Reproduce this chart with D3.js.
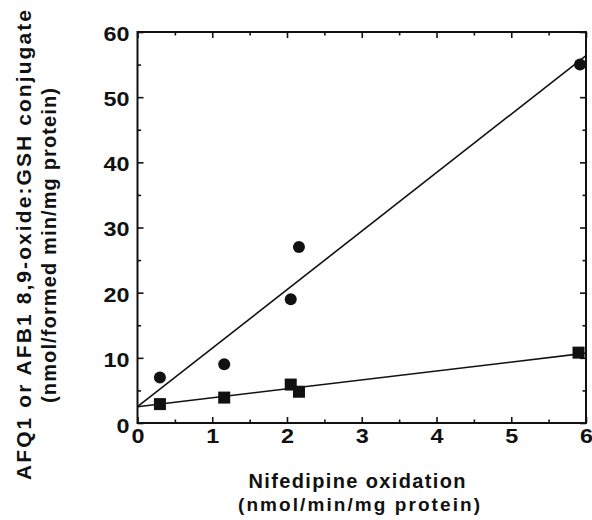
<!DOCTYPE html>
<html><head><meta charset="utf-8">
<script src="https://cdn.jsdelivr.net/npm/d3@7"></script>
<style>body{margin:0;background:#fff}svg{display:block}text{font-family:"Liberation Sans",Arial,sans-serif;font-weight:bold;fill:#111}</style>
</head><body>
<svg id="c" width="592" height="520"></svg>
<script>
const nifedipine = [0.30, 1.16, 2.05, 2.16, 5.92];
const afq1 = [7.0, 9.0, 19.0, 27.0, 55.0];
const squareX = [0.30, 1.16, 2.05, 2.16, 5.90];
const afb1Gsh = [2.9, 3.9, 5.9, 4.8, 10.8];
const fitCircle = {intercept: 2.5, slope: 8.98};
const fitSquare = {intercept: 2.5, slope: 1.37};
const xTicks = [0,1,2,3,4,5,6];
const yTicks = [0,10,20,30,40,50,60];
const xMinor = [0.5,1.5,2.5,3.5,4.5,5.5];
const yMinor = [5,15,25,35,45,55];

const svg = d3.select("#c");
const L=137.5,R=586,T=32,B=423;
const x = d3.scaleLinear().domain([0,6]).range([L,R]);
const y = d3.scaleLinear().domain([0,60]).range([B,T]);
const g = svg.append("g");

g.append("rect").attr("x",L).attr("y",T).attr("width",R-L).attr("height",B-T)
 .attr("fill","none").attr("stroke","#111").attr("stroke-width",2);

function ticks(f,t,vals,len){
  const a = g.append("g").attr("transform",t).call(f.tickValues(vals).tickSize(-len).tickFormat(""));
  a.select(".domain").remove();
  a.selectAll("line").attr("stroke","#111").attr("stroke-width",1.6);
}
const axes = [[()=>d3.axisBottom(x),`translate(0,${B})`,xTicks,xMinor],
 [()=>d3.axisTop(x),`translate(0,${T})`,xTicks,xMinor],
 [()=>d3.axisLeft(y),`translate(${L},0)`,yTicks,yMinor],
 [()=>d3.axisRight(y),`translate(${R},0)`,yTicks,yMinor]];
axes.forEach(([mk,t,maj,min])=>{ ticks(mk(),t,maj,6); ticks(mk(),t,min,3.5); });

const fmt = d3.format("d");
const xl = g.append("g").attr("transform",`translate(0,${B+5})`).call(d3.axisBottom(x).tickValues(xTicks).tickSize(0).tickFormat(fmt));
xl.select(".domain").remove();
xl.selectAll("text").attr("font-size",21).attr("dy","0.72em").attr("y",0)
 .attr("textLength",d=>fmt(d).length*13).attr("lengthAdjust","spacingAndGlyphs")
 .style("font-family","'Liberation Sans',Arial,sans-serif").style("font-weight","bold");
const yl = g.append("g").attr("transform",`translate(${L-8},0)`).call(d3.axisLeft(y).tickValues(yTicks).tickSize(0).tickFormat(fmt));
yl.select(".domain").remove();
yl.selectAll("text").attr("font-size",20).attr("dy","0.42em").attr("x",0)
 .attr("textLength",d=>fmt(d).length*13).attr("lengthAdjust","spacingAndGlyphs")
 .style("font-family","'Liberation Sans',Arial,sans-serif").style("font-weight","bold");
yl.selectAll(".tick").filter(d=>d===0).select("text").attr("dy","0.47em");

[fitCircle,fitSquare].forEach(f=>{
  g.append("line").attr("x1",x(0)).attr("y1",y(f.intercept)).attr("x2",x(6)).attr("y2",y(f.intercept+f.slope*6))
   .attr("stroke","#111").attr("stroke-width",1.6);
});

g.selectAll("circle.pt").data(nifedipine.map((v,i)=>[v,afq1[i]])).join("circle")
 .attr("cx",d=>x(d[0])).attr("cy",d=>y(d[1])).attr("r",6).attr("fill","#111");
g.selectAll("rect.sq").data(squareX.map((v,i)=>[v,afb1Gsh[i]])).join("rect").attr("class","sq")
 .attr("x",d=>x(d[0])-6).attr("y",d=>y(d[1])-6).attr("width",12).attr("height",12).attr("fill","#111");

function title(t,tx,ty,rot,size,len){
  svg.append("text").attr("transform",`translate(${tx},${ty})`+(rot?" rotate(-90)":""))
   .attr("text-anchor","middle").attr("font-size",size)
   .attr("textLength",len).attr("lengthAdjust","spacing").text(t);
}
title("Nifedipine oxidation",357,488,false,20,217);
title("(nmol/min/mg  protein)",359,511,false,19,242);
title("AFQ1 or AFB1 8,9-oxide:GSH conjugate",31,245,true,21,470);
title("(nmol/formed min/mg protein)",56,245.5,true,20,315);
</script>
</body></html>
